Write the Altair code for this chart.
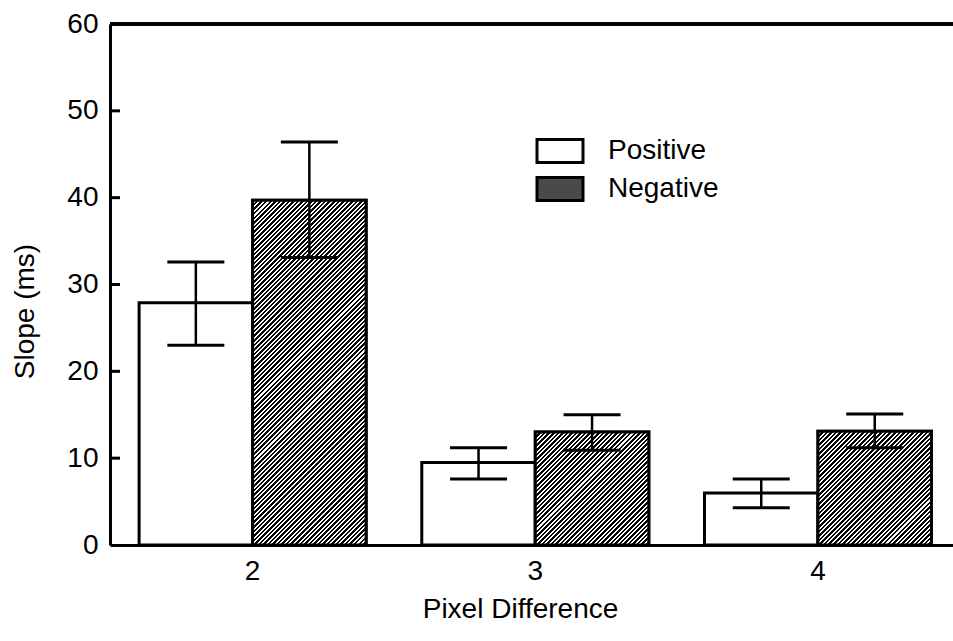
import math
import altair as alt
import pandas as pd

# ---- data ----
groups = ["2", "3", "4"]
series = ["Positive", "Negative"]
pos_mean = [27.9, 9.5, 6.0]
pos_lo = [23.0, 7.6, 4.3]
pos_hi = [32.6, 11.2, 7.6]
neg_mean = [39.7, 13.0, 13.1]
neg_lo = [33.1, 10.9, 11.2]
neg_hi = [46.4, 15.0, 15.1]
y_ticks = [0, 10, 20, 30, 40, 50, 60]
inner_ticks = [10, 20, 30, 40, 50]

rows = []
for i, g in enumerate(groups):
    rows.append(dict(group=g, series="Positive", mean=pos_mean[i], lo=pos_lo[i], hi=pos_hi[i]))
    rows.append(dict(group=g, series="Negative", mean=neg_mean[i], lo=neg_lo[i], hi=neg_hi[i]))
df = pd.DataFrame(rows)
ticks_df = pd.DataFrame({"v": inner_ticks})

# ---- layout ----
W, H = 843, 521
YMAX = 60
P_IN, P_OUT, ALIGN = 0.197, 0.0895, 0.575
step = W / (len(groups) - P_IN + 2 * P_OUT)
bar_w = step * (1 - P_IN) / 2
FONT = "Liberation Sans"
FS = 28


def hatch(value, period=3.2, ink=0.55):
    """Diagonal black/white stripes as a hard-stop linear gradient."""
    h = value / YMAX * H
    r = h / bar_w
    k = (1 + r) / (1 + r * r)
    n = max(1, round((bar_w + h) / (math.sqrt(2) * period)))
    stops = []
    for i in range(n):
        a, b, c = i / n, (i + ink) / n, (i + 1) / n
        stops += [
            alt.GradientStop(color="black", offset=a),
            alt.GradientStop(color="black", offset=b),
            alt.GradientStop(color="white", offset=b),
            alt.GradientStop(color="white", offset=min(c, 1.0)),
        ]
    return alt.LinearGradient(gradient="linear", stops=stops, x1=0, y1=0, x2=k, y2=k * r)


x_enc = alt.X(
    "group:N",
    sort=groups,
    scale=alt.Scale(paddingInner=P_IN, paddingOuter=P_OUT, align=ALIGN),
    axis=alt.Axis(
        title="Pixel Difference",
        ticks=False,
        labelAngle=0,
        labelPadding=12,
        titleX=410,
        titleY=64,
        titleAlign="center",
        titleBaseline="middle",
    ),
)
xo_enc = alt.XOffset("series:N", sort=series, scale=alt.Scale(paddingInner=0, paddingOuter=0))
y_scale = alt.Scale(domain=[0, YMAX], nice=False, zero=True)
y_axis = alt.Axis(
    orient="left",
    values=y_ticks,
    ticks=False,
    labelPadding=12,
    title="Slope (ms)",
    titleAngle=270,
    titleX=-85,
    titleY=287,
    titleAlign="center",
    titleBaseline="middle",
)

base = alt.Chart(df)

bars = base.mark_bar(stroke="black", strokeWidth=3).encode(
    x=x_enc,
    xOffset=xo_enc,
    y=alt.Y("mean:Q", scale=y_scale, axis=y_axis),
    fill=alt.Fill(
        "series:N",
        sort=series,
        scale=alt.Scale(domain=series, range=["white", "#4a4a4a"]),
        legend=alt.Legend(
            title=None,
            orient="none",
            legendX=436,
            legendY=113,
            symbolType="M-2,-1H2V1H-2Z",
            symbolSize=529,
            symbolStrokeColor="black",
            symbolStrokeWidth=3,
            labelFont=FONT,
            labelFontSize=FS,
            labelColor="black",
            labelOffset=34,
            rowPadding=2,
        ),
    ),
)

hatch_layers = []
for i, g in enumerate(groups):
    hatch_layers.append(
        base.transform_filter(
            (alt.datum.group == g) & (alt.datum.series == "Negative")
        )
        .mark_bar(stroke="black", strokeWidth=3, fill=hatch(neg_mean[i]))
        .encode(x=x_enc, xOffset=xo_enc, y=alt.Y("mean:Q", scale=y_scale, axis=y_axis))
    )

err_rule = base.mark_rule(color="black", strokeWidth=2.5, opacity=1).encode(
    x=x_enc, xOffset=xo_enc, y=alt.Y("lo:Q", scale=y_scale, axis=y_axis), y2="hi:Q"
)
cap_lo = base.mark_tick(color="black", size=57, thickness=3, opacity=1).encode(
    x=x_enc, xOffset=xo_enc, y=alt.Y("lo:Q", scale=y_scale, axis=y_axis)
)
cap_hi = base.mark_tick(color="black", size=57, thickness=3, opacity=1).encode(
    x=x_enc, xOffset=xo_enc, y=alt.Y("hi:Q", scale=y_scale, axis=y_axis)
)

# inward-pointing y-axis ticks
axis_ticks = alt.Chart(ticks_df).mark_rule(color="black", strokeWidth=3, opacity=1).encode(
    x=alt.value(0),
    x2=alt.value(10),
    y=alt.Y("v:Q", scale=y_scale, axis=y_axis),
)

# top frame line
top_line = base.mark_rule(color="black", strokeWidth=3).encode(
    y=alt.Y(datum=YMAX, type="quantitative", scale=y_scale, axis=y_axis)
)

chart = (
    alt.layer(bars, *hatch_layers, err_rule, cap_lo, cap_hi, axis_ticks, top_line)
    .properties(
        width=W,
        height=H,
        autosize=alt.AutoSizeParams(type="none"),
        padding={"left": 110, "top": 24, "right": 0, "bottom": 92},
        background="white",
    )
    .configure_view(stroke=None)
    .configure_axis(
        domainColor="black",
        domainWidth=3,
        labelFont=FONT,
        labelFontSize=FS,
        labelColor="black",
        titleFont=FONT,
        titleFontSize=FS,
        titleFontWeight="normal",
        titleColor="black",
        grid=False,
    )
)

chart.save("out.html", embed_options={"renderer": "svg", "actions": False})
